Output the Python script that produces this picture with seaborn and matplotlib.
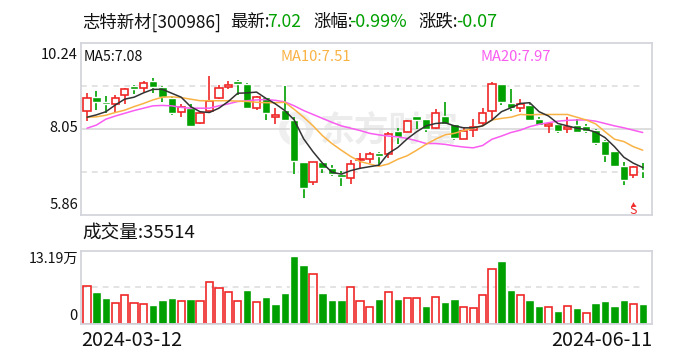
import matplotlib
matplotlib.use("Agg")
import matplotlib.pyplot as plt
import pandas as pd
import seaborn as sns

high = [8.97, 9.03, 8.90, 8.92, 9.09, 9.17, 9.27, 9.36, 9.15, 8.87,
        8.69, 8.69, 8.52, 9.41, 9.17, 9.27, 9.30, 9.23, 8.89, 8.87,
        8.58, 9.15, 8.35, 7.21, 7.21, 7.21, 7.13, 6.99, 7.26, 7.43,
        7.46, 7.46, 7.97, 8.07, 8.28, 8.38, 8.30, 8.55, 8.74, 8.19,
        8.09, 8.30, 8.58, 9.24, 9.20, 9.07, 8.81, 8.70, 8.35, 8.22,
        8.19, 8.35, 8.30, 8.18, 8.04, 7.77, 7.49, 7.21, 7.12, 7.18]
body_top = [8.83, 8.86, 8.74, 8.83, 9.06, 9.15, 9.21, 9.27, 9.12, 8.84,
            8.60, 8.59, 8.47, 8.77, 9.09, 9.17, 9.28, 9.20, 8.86, 8.86,
            8.40, 8.53, 8.28, 7.21, 7.20, 7.21, 7.06, 6.91, 7.15, 7.29,
            7.41, 7.44, 7.91, 8.00, 8.25, 8.38, 8.30, 8.45, 8.38, 8.19,
            7.99, 8.09, 8.47, 9.19, 9.20, 8.70, 8.69, 8.66, 8.30, 8.18,
            8.19, 8.11, 8.15, 8.13, 8.02, 7.74, 7.49, 7.11, 7.07, 7.00]
body_bot = [8.52, 8.75, 8.69, 8.69, 8.91, 9.07, 9.10, 9.13, 8.86, 8.47,
            8.49, 8.13, 8.21, 8.52, 8.83, 9.13, 9.20, 8.58, 8.59, 8.47,
            8.36, 8.28, 7.24, 6.56, 6.71, 7.06, 6.90, 6.83, 6.79, 7.25,
            7.29, 7.37, 7.42, 7.84, 7.98, 8.28, 8.05, 8.07, 8.19, 7.82,
            7.80, 8.02, 8.21, 8.52, 8.75, 8.58, 8.58, 8.28, 8.15, 8.12,
            8.00, 8.04, 7.98, 8.00, 7.70, 7.40, 7.12, 6.76, 6.87, 6.99]
low = [8.25, 8.53, 8.47, 8.49, 8.69, 8.94, 8.98, 8.96, 8.75, 8.41,
       8.36, 8.13, 8.18, 8.49, 8.81, 9.07, 8.92, 8.56, 8.53, 8.28,
       8.19, 8.28, 6.90, 6.30, 6.62, 6.92, 6.86, 6.61, 6.65, 7.02,
       7.19, 7.11, 7.31, 7.68, 7.97, 8.04, 7.98, 8.04, 8.15, 7.77,
       7.80, 7.85, 8.15, 8.28, 8.66, 8.52, 8.49, 8.25, 8.14, 7.96,
       7.96, 7.96, 7.96, 7.96, 7.63, 7.22, 7.12, 6.63, 6.80, 6.79]
candle_red = [0, 3, 4, 6, 10, 12, 13, 14, 15, 18, 20, 24, 28, 29, 30, 32, 34,
              37, 40, 41, 42, 43, 46, 49, 51, 58]

ma5 = [8.35, 8.41, 8.49, 8.66, 8.81, 8.86, 8.97, 9.06, 9.06, 8.96,
       8.86, 8.62, 8.49, 8.47, 8.58, 8.75, 8.96, 8.97, 8.99, 8.83,
       8.69, 8.52, 8.28, 7.80, 7.47, 7.18, 6.95, 6.90, 6.99, 7.05,
       7.09, 7.13, 7.43, 7.58, 7.80, 7.98, 8.13, 8.19, 8.21, 8.13,
       8.08, 8.08, 8.13, 8.28, 8.49, 8.59, 8.70, 8.72, 8.49, 8.38,
       8.19, 8.13, 8.07, 8.04, 7.97, 7.83, 7.60, 7.33, 7.18, 7.07]
ma10 = [8.35, 8.36, 8.40, 8.47, 8.53, 8.62, 8.70, 8.79, 8.86, 8.87,
        8.85, 8.81, 8.77, 8.77, 8.77, 8.77, 8.76, 8.75, 8.73, 8.72,
        8.72, 8.73, 8.55, 8.35, 8.13, 7.88, 7.68, 7.51, 7.35, 7.22,
        7.16, 7.10, 7.16, 7.28, 7.37, 7.51, 7.66, 7.79, 7.90, 7.94,
        8.01, 8.07, 8.13, 8.28, 8.32, 8.35, 8.42, 8.41, 8.42, 8.42,
        8.42, 8.42, 8.35, 8.28, 8.18, 7.98, 7.79, 7.73, 7.60, 7.51]
ma20 = [8.07, 8.15, 8.30, 8.38, 8.45, 8.52, 8.58, 8.64, 8.65, 8.64,
        8.60, 8.58, 8.58, 8.58, 8.64, 8.69, 8.75, 8.77, 8.79, 8.80,
        8.78, 8.74, 8.64, 8.52, 8.42, 8.32, 8.22, 8.13, 8.07, 8.01,
        7.94, 7.90, 7.87, 7.85, 7.81, 7.75, 7.68, 7.68, 7.66, 7.62,
        7.59, 7.57, 7.63, 7.79, 7.87, 7.96, 8.02, 8.11, 8.17, 8.21,
        8.25, 8.27, 8.28, 8.28, 8.25, 8.19, 8.13, 8.08, 8.02, 7.96]

volume = [7.22, 6.10, 4.92, 4.07, 5.64, 4.07, 3.87, 3.54, 4.53, 4.92,
          4.46, 4.72, 4.46, 8.01, 6.82, 6.04, 4.46, 6.50, 4.27, 5.12,
          3.74, 5.91, 13.19, 11.42, 9.58, 5.91, 4.53, 4.53, 7.02, 4.46,
          3.28, 4.72, 6.04, 4.72, 5.05, 5.05, 3.35, 5.25, 4.13, 4.72,
          3.28, 3.08, 5.64, 10.56, 12.21, 6.50, 5.64, 4.53, 3.35, 3.28,
          2.36, 3.48, 2.95, 2.10, 3.94, 4.33, 3.35, 4.53, 3.74, 3.74]
volume_red = [0, 3, 4, 5, 6, 10, 12, 13, 14, 15, 16, 18, 24, 28, 29, 30, 32,
              34, 35, 37, 40, 41, 42, 43, 46, 49, 51, 53, 58]

price_ticks = [5.86, 8.05, 10.24]
RED = "#f02828"
GREEN = "#00a000"
FRAME = "#d4d4dc"
GRID = "#dedede"
W, H = 688, 360

sns.set_theme(style="white")
plt.rcParams["font.family"] = ["Noto Sans CJK SC", "DejaVu Sans"]

df = pd.DataFrame({"i": range(len(high)), "high": high, "low": low,
                   "top": body_top, "bot": body_bot, "volume": volume})
df["color"] = [RED if i in candle_red else GREEN for i in df["i"]]
df["vol_red"] = [i in volume_red for i in df["i"]]

fig = plt.figure(figsize=(W / 100, H / 100), dpi=100)
ax = fig.add_axes([80.5 / W, 1 - 215 / H, 571 / W, 172 / H])
ax_vol = fig.add_axes([80.5 / W, 1 - 323.5 / H, 571 / W, 72.5 / H])
ax.patch.set_alpha(0)


def put(x, y, s, **kw):
    # x, y in picture pixels from the top left
    kw.setdefault("va", "center")
    kw.setdefault("color", "#111111")
    fig.text(x / W, 1 - y / H, s, **kw)


# watermark
put(320, 130, "东方财富", fontsize=25, color="#ececec", fontweight="bold", zorder=-1)
ax.scatter([22.2], [8.05], s=380, facecolor="none", edgecolor="#efefef", lw=5, zorder=0)

# candles
ax.vlines(df["i"], df["low"], df["high"], colors=df["color"], lw=1.2, zorder=3)
is_red = df["color"] == RED
ax.bar(df["i"][~is_red], df["top"][~is_red] - df["bot"][~is_red], bottom=df["bot"][~is_red],
       width=0.9, color=GREEN, zorder=4)
ax.bar(df["i"][is_red], df["top"][is_red] - df["bot"][is_red], bottom=df["bot"][is_red],
       width=0.78, facecolor="white", edgecolor=RED, lw=1.2, zorder=4)

# moving averages
for vals, c in [(ma20, "#f95cf0"), (ma10, "#f9b244"), (ma5, "#333333")]:
    sns.lineplot(x=df["i"], y=vals, color=c, lw=1.1, errorbar=None, ax=ax, zorder=5)

ax.set_xlim(-0.69, 59.93)
ax.set_ylim(price_ticks[0], price_ticks[-1])
ax.set_xticks([])
ax.set_yticks(price_ticks, labels=[])
ax.set_xlabel("")
ax.set_ylabel("")
ax.axhline(price_ticks[1], color="#d8d8d8", lw=1.2, zorder=1)
for g in [6.955, 9.145]:
    ax.axhline(g, xmax=0.985, color=GRID, lw=1.2, ls=(0, (3.5, 3)), zorder=1)

# sell mark
ax.plot([58], [6.14], marker="^", ms=3.5, mew=0, color=RED, zorder=6)
ax.text(58, 5.98, "S", color=RED, fontsize=9, ha="center", va="center", zorder=6)

# volume
sns.barplot(data=df[~df["vol_red"]], x="i", y="volume", native_scale=True, width=0.9,
            color=GREEN, saturation=1, errorbar=None, ax=ax_vol)
sns.barplot(data=df[df["vol_red"]], x="i", y="volume", native_scale=True, width=0.78,
            color=RED, saturation=1, fill=False, linewidth=1.2, errorbar=None, ax=ax_vol)
ax_vol.set_xlim(-0.69, 59.93)
ax_vol.set_ylim(0, 14.11)
ax_vol.set_xticks([])
ax_vol.set_yticks([0, 13.19], labels=[])
ax_vol.set_xlabel("")
ax_vol.set_ylabel("")
ax_vol.axhline(7.05, xmax=0.985, color=GRID, lw=1.2, ls=(0, (3.5, 3)), zorder=0)

for a in (ax, ax_vol):
    a.tick_params(length=0)
    for s in a.spines.values():
        s.set_color(FRAME)
        s.set_linewidth(1.3)

# title row
put(82, 22, "志特新材[300986]", fontsize=12.5)
put(230, 22, "最新:", fontsize=12.5)
put(267, 22, "7.02", fontsize=12.6, color=GREEN)
put(313, 22, "涨幅:", fontsize=12.5)
put(349, 22, "-0.99%", fontsize=12.9, color=GREEN)
put(418, 22, "涨跌:", fontsize=12.5)
put(456, 22, "-0.07", fontsize=12.9, color=GREEN)

# price labels
put(78, 55, "10.24", fontsize=10.6, ha="right")
put(78, 128, "8.05", fontsize=10.6, ha="right")
put(78, 205, "5.86", fontsize=10.6, ha="right")
put(84, 57, "MA5:7.08", fontsize=10.2)
put(280, 57, "MA10:7.51", fontsize=10.6, color="#f9b244")
put(481, 57, "MA20:7.97", fontsize=10.6, color="#f95cf0")

# volume labels
put(82, 233, "成交量:35514", fontsize=13.4)
put(78, 259, "13.19万", fontsize=10.2, ha="right")
put(78, 316, "0", fontsize=10.6, ha="right")
put(81, 341, "2024-03-12", fontsize=14.2)
put(652, 341, "2024-06-11", fontsize=14.2, ha="right")

fig.savefig("out.png", dpi=100)
